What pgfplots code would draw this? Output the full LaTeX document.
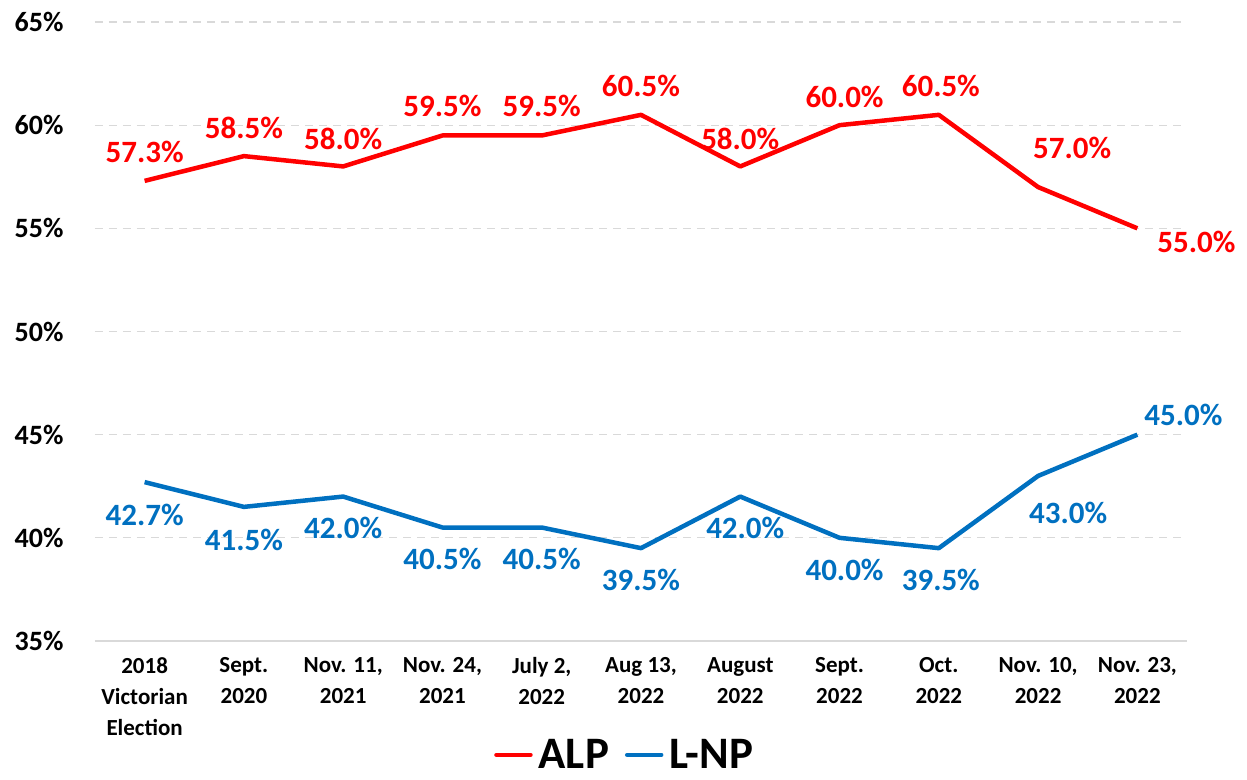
\documentclass[border=0pt]{standalone}
\usepackage{fontspec}
\setmainfont{Carlito}
\usepackage{pgfplots}
\usepackage{pgfplotstable}
\pgfplotsset{compat=1.18}
\definecolor{alp}{HTML}{FF0000}
\definecolor{lnp}{HTML}{0070C0}
\definecolor{gridc}{HTML}{D9D9D9}
\pgfplotstableread{
x y dx dy
0 57.3 0 29
1 58.5 0 28
2 58.0 0 28
3 59.5 0 30
4 59.5 0 30
5 60.5 0 29
6 58.0 0 28
7 60.0 5 28
8 60.5 2 29
9 57.0 34 39
10 55.0 59 -14
}\alp
\pgfplotstableread{
x y dx dy
0 42.7 0 -33
1 41.5 0 -33
2 42.0 0 -31
3 40.5 0 -31
4 40.5 0 -31
5 39.5 0 -32
6 42.0 5 -31
7 40.0 5 -32
8 39.5 2 -32
9 43.0 30 -37
10 45.0 46 20
}\lnp
\begin{document}
\begin{tikzpicture}
\path[use as bounding box] (-95pt,-138pt) rectangle (1152pt,641pt);
\begin{axis}[
  scale only axis,
  width=1092pt, height=619pt,
  xmin=-0.5, xmax=10.5,
  ymin=35, ymax=65,
  axis x line*=bottom,
  axis y line=none,
  x axis line style={draw=gridc, line width=1.2pt, -},
  xtick={0,...,10},
  xticklabels={{2018\\Victorian\\Election},{Sept.\\2020},{Nov. 11,\\2021},{Nov. 24,\\2021},{July 2,\\2022},{Aug 13,\\2022},{August\\2022},{Sept.\\2022},{Oct.\\2022},{Nov. 10,\\2022},{Nov. 23,\\2022}},
  xticklabel style={align=center, font=\bfseries\fontsize{23}{31}\selectfont, text=black, yshift=-13pt},
  major tick length=0pt,
  ytick={35,40,...,65},
  yticklabels={35\%,40\%,45\%,50\%,55\%,60\%,65\%},
  clip=false,
  /pgf/number format/assume math mode=true,
  legend style={at={(0.485,-0.184)}, anchor=center, draw=none, fill=none, inner sep=0pt, legend columns=-1, font=\bfseries\fontsize{45}{50}\selectfont, nodes={inner sep=2pt}, /tikz/every odd column/.append style={column sep=4pt}, /tikz/every even column/.append style={column sep=14pt}},
  legend image code/.code={\draw[#1, line width=4.5pt, line cap=round] (0pt,0pt) -- (34pt,0pt);},
  nodes near coords={\pgfmathprintnumber[fixed,fixed zerofill,precision=1]{\pgfplotspointmeta}\%},
  point meta=y,
  visualization depends on={\thisrow{dx} \as \dx},
  visualization depends on={\thisrow{dy} \as \dy},
  every node near coord/.append style={anchor=center, xshift=\dx pt, yshift=\dy pt, font=\bfseries\fontsize{31}{34}\selectfont},
]
\foreach \v in {40,45,50,55,60,65} {
  \edef\tmp{\noexpand\draw[gridc, line width=1.2pt, dash pattern=on 8pt off 6pt] (axis cs:-0.5,\v) -- (axis cs:10.5,\v);}
  \tmp
}
\foreach \v in {35,40,45,50,55,60,65} {
  \edef\tmp{\noexpand\node[anchor=east, font=\noexpand\bfseries\noexpand\fontsize{28}{30}\noexpand\selectfont] at (axis cs:-0.5,\v) [xshift=-28pt] {\v\noexpand\%};}
  \tmp
}
\addplot[alp, line width=4.5pt, line join=round, every node near coord/.append style={text=alp}] table[x=x,y=y] {\alp};
\addlegendentry{ALP}
\addplot[lnp, line width=4.5pt, line join=round, every node near coord/.append style={text=lnp}] table[x=x,y=y] {\lnp};
\addlegendentry{L-NP}
\end{axis}
\end{tikzpicture}
\end{document}
